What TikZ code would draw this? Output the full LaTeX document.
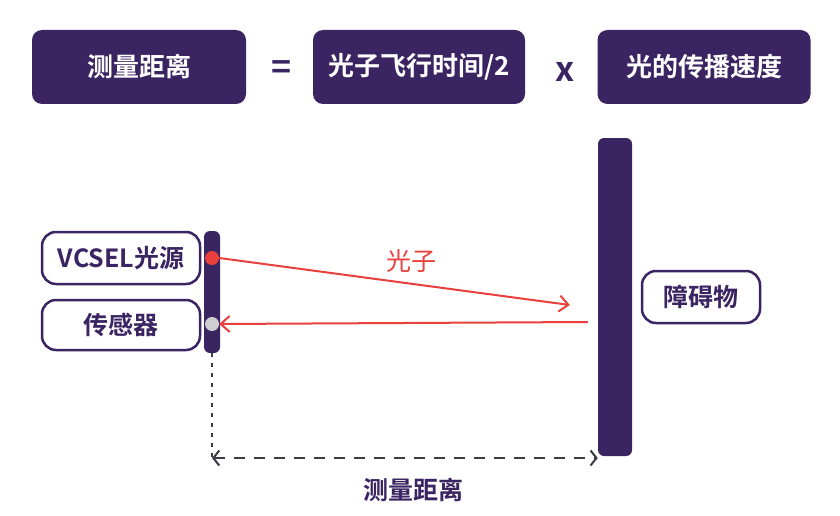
\documentclass[tikz,border=0pt]{standalone}
\usepackage{fontspec}
\setmainfont{Noto Sans CJK SC}[BoldFont={Noto Sans CJK SC Bold}]
\usetikzlibrary{arrows.meta, positioning, calc}
\definecolor{deeppurple}{RGB}{58, 36, 98}
\definecolor{laserred}{RGB}{232, 64, 60}
\definecolor{dotgray}{RGB}{205, 205, 210}
\definecolor{linegray}{RGB}{60, 60, 72}
\tikzstyle{formula_box} = [rectangle, rounded corners=10pt, fill=deeppurple, text=white, minimum height=74pt, font=\bfseries\fontsize{26}{28}\selectfont]
\tikzstyle{label_box} = [rectangle, rounded corners=14pt, draw=deeppurple, line width=2.5pt, fill=white, text=deeppurple, minimum height=50pt, font=\bfseries\fontsize{25}{27}\selectfont]
\tikzstyle{bar} = [rectangle, rounded corners=6pt, fill=deeppurple, inner sep=0pt]
\tikzstyle{beam} = [laserred, line width=2pt, -{Straight Barb[length=9pt, width=16pt, line width=2pt]}]
\tikzstyle{symbol} = [font=\bfseries\fontsize{34}{36}\selectfont, deeppurple]

\begin{document}
\begin{tikzpicture}[x=1pt, y=-1pt]
\useasboundingbox[fill=white] (0,0) rectangle (840,516);

% Formula
\node[formula_box, minimum width=214pt] (dist) at (139,67) {测量距离};
\node[symbol] (eq) at (282,70) {=};
\node[formula_box, minimum width=212pt] (time) at (419,67) {光子飞行时间/2};
\node[symbol] (times) at (565,72) {x};
\node[formula_box, minimum width=213pt] (speed) at (704,67) {光的传播速度};

% Module and obstacle
\node[bar, minimum width=16pt, minimum height=122pt] (module) at (212,292) {};
\node[bar, minimum width=34pt, minimum height=318pt] (wall) at (615,297) {};
\node[circle, fill=laserred, inner sep=0pt, minimum size=14pt] (src) at (212,258) {};
\node[circle, fill=dotgray, inner sep=0pt, minimum size=14pt] (sns) at (212,324) {};

\node[label_box, minimum width=158pt, minimum height=52pt] (vcsel) at (121,258) {VCSEL光源};
\node[label_box, minimum width=158pt] (sensor) at (121,325) {传感器};
\node[label_box, minimum width=118pt, minimum height=52pt] (obst) at (701,297) {障碍物};

% Light path
\coordinate (hit) at ($(wall.west)+(-28,8)$);
\coordinate (back) at ($(wall.west)+(-10,25)$);
\draw[beam] (src.east) -- (hit);
\draw[beam] (back) -- (sns.east);
\node[laserred, font=\fontsize{25}{27}\selectfont] (photon) at (411,261) {光子};

% Distance marker
\coordinate (base) at (212,458);
\draw[linegray, line width=1.8pt, dash pattern=on 4pt off 6pt] (module.south) -- (base);
\draw[linegray, line width=2pt, dash pattern=on 11pt off 9pt, {Straight Barb[length=6pt, width=15pt, line width=2pt]}-{Straight Barb[length=6pt, width=15pt, line width=2pt]}] (base) -- (base -| wall.west);
\node[deeppurple, font=\bfseries\fontsize{25}{27}\selectfont] (measure) at (413,490) {测量距离};

\end{tikzpicture}
\end{document}
